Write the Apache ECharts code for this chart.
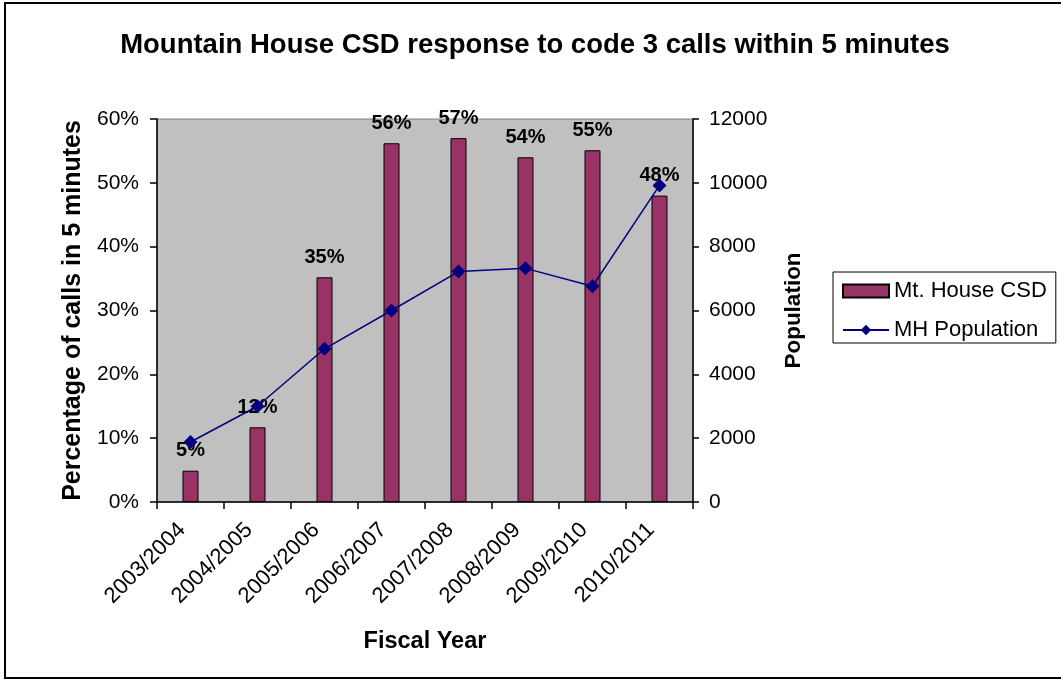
<!DOCTYPE html>
<html>
<head>
<meta charset="utf-8">
<script src="https://cdn.jsdelivr.net/npm/echarts@6/dist/echarts.min.js"></script>
<style>
html,body{margin:0;padding:0;background:#fff;}
#chart{width:1061px;height:679px;}
</style>
</head>
<body>
<div id="chart"></div>
<script>
const categories = ['2003/2004','2004/2005','2005/2006','2006/2007','2007/2008','2008/2009','2009/2010','2010/2011'];
const responsePct = [4.9, 11.7, 35.2, 56.2, 57.0, 54.0, 55.1, 48.0];
const population = [1880, 3000, 4800, 6000, 7220, 7320, 6760, 9920];
const seriesNames = ['Mt. House CSD', 'MH Population'];

const FONT = '"Liberation Sans", Arial, sans-serif';
const chart = echarts.init(document.getElementById('chart'), null, {renderer:'canvas'});
chart.setOption({
  animation:false,
  backgroundColor:'#ffffff',
  textStyle:{fontFamily:FONT, color:'#000'},
  title:{
    text:'Mountain House CSD response to code 3 calls within 5 minutes',
    left:530, top:26, textAlign:'center',
    textStyle:{fontFamily:FONT, fontSize:27.5, fontWeight:'bold', color:'#000'}
  },
  graphic:[{
    type:'rect', shape:{x:5, y:3, width:1070, height:675},
    style:{fill:'none', stroke:'#000', lineWidth:2}, silent:true, z:-1
  }],
  legend:{
    orient:'vertical', left:833, top:272,
    padding:[7,9,1,9],
    borderColor:'#000', borderWidth:1,
    itemWidth:46, itemHeight:13, itemGap:15, itemTextGap:9,
    textStyle:{fontFamily:FONT, fontSize:22, color:'#000', lineHeight:24},
    data:[{name:seriesNames[0], icon:'rect'}, {name:seriesNames[1]}]
  },
  grid:{left:157, right:368, top:119, bottom:177,
    show:true, backgroundColor:'#C0C0C0', borderColor:'#808080', borderWidth:1},
  xAxis:{
    type:'category', data:categories, boundaryGap:true,
    name:'Fiscal Year', nameLocation:'middle', nameGap:128,
    nameTextStyle:{fontFamily:FONT, fontSize:23.5, fontWeight:'bold', color:'#000'},
    axisLine:{lineStyle:{color:'#000', width:1.5}},
    axisTick:{show:true, length:7, lineStyle:{color:'#000', width:1.5}},
    axisLabel:{rotate:45, margin:16, padding:[0,12,0,0], fontFamily:FONT, fontSize:22, color:'#000'}
  },
  yAxis:[{
    type:'value', min:0, max:60, interval:10, position:'left',
    name:'Percentage of calls in 5 minutes', nameLocation:'middle', nameGap:71, nameRotate:90,
    nameTextStyle:{fontFamily:FONT, fontSize:25, fontWeight:'bold', color:'#000'},
    axisLine:{show:true, lineStyle:{color:'#000', width:1.5}},
    axisTick:{show:true, length:7, lineStyle:{color:'#000', width:1.5}},
    axisLabel:{formatter:'{value}%', margin:18, fontFamily:FONT, fontSize:21, color:'#000'},
    splitLine:{show:false}
  },{
    type:'value', min:0, max:12000, interval:2000, position:'right',
    name:'Population', nameLocation:'middle', nameGap:89, nameRotate:90,
    nameTextStyle:{fontFamily:FONT, fontSize:22.5, fontWeight:'bold', color:'#000'},
    axisLine:{show:true, lineStyle:{color:'#000', width:1.5}},
    axisTick:{show:true, length:6, lineStyle:{color:'#000', width:1.5}},
    axisLabel:{margin:16, formatter:v=>String(v), fontFamily:FONT, fontSize:21, color:'#000'},
    splitLine:{show:false}
  }],
  series:[{
    name:seriesNames[0], type:'bar', yAxisIndex:0, data:responsePct,
    barWidth:16,
    itemStyle:{color:'#993366', borderColor:'#000', borderWidth:1},
    label:{show:true, position:'top', distance:10,
      formatter:p=>Math.round(p.value)+'%',
      fontFamily:FONT, fontSize:20, fontWeight:'bold', color:'#000'}
  },{
    name:seriesNames[1], type:'line', yAxisIndex:1, data:population,
    symbol:'diamond', symbolSize:14,
    lineStyle:{color:'#000080', width:1.5},
    itemStyle:{color:'#000080'}, z:3
  }]
});
</script>
</body>
</html>
